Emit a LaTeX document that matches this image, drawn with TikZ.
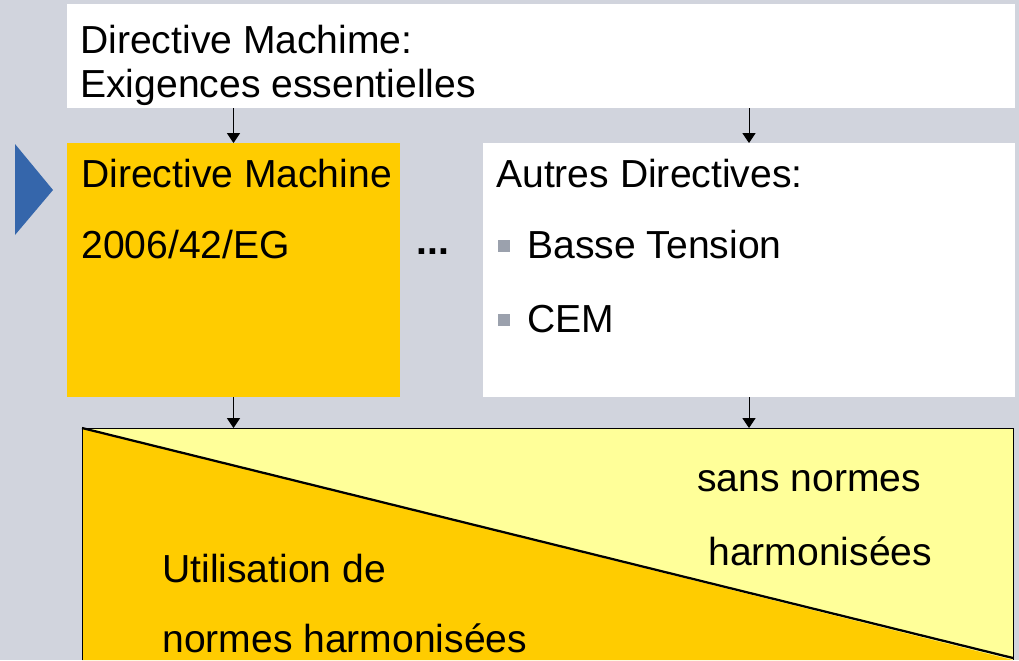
\documentclass[tikz,border=0pt]{standalone}
\usepackage{fontspec}
\setmainfont{Liberation Sans}
\usepackage{xcolor}
\usepackage{tikz}
\usetikzlibrary{arrows.meta}
\usetikzlibrary{calc}
\definecolor{slidegrey}{HTML}{D1D4DD}
\definecolor{machyellow}{HTML}{FFCC00}
\definecolor{paleyellow}{HTML}{FFFF99}
\definecolor{markblue}{HTML}{3566AB}
\definecolor{bulletgrey}{HTML}{9BA1AD}
\def\pxu{0.025cm}
\tikzset{
  panel/.style 2 args={rectangle,inner sep=0pt,outer sep=0pt,anchor=north west,
    minimum width=#1*\pxu,minimum height=#2*\pxu},
  label text/.style={anchor=base west,inner sep=0pt,font=\fontsize{27.8pt}{33pt}\selectfont},
  flow/.style={draw=black,line width=0.7pt,-{Triangle[width=0.33cm,length=0.25cm]}}
}

\begin{document}
\begin{tikzpicture}[x=\pxu,y=-\pxu]
        %%% BACKGROUND %%%
        \fill[slidegrey] (0,0) rectangle (1019,660);
        \useasboundingbox (0,0) rectangle (1019,660);
        \fill[markblue] (15,144) -- (53,190) -- (15,235) -- cycle;

        %%% BOXES %%%
        \node[panel={948}{104},fill=white] (exig) at (67,4) {};
        \node[panel={333}{254},fill=machyellow] (dm) at (67,143) {};
        \node[panel={532}{254},fill=white] (autres) at (483,143) {};
        \node[panel={931}{232},fill=paleyellow] (normes) at (82,428) {};
        \fill[machyellow] (normes.north west) -- (normes.south east) -- (normes.south west) -- cycle;
        \draw[line width=1.6pt] (normes.north west) -- ([yshift=2*\pxu]normes.south east);
        \draw[line width=0.7pt] (normes.south west) -- (normes.north west) -- (normes.north east) -- (normes.south east);

        %%% TEXTS %%%
        \node[label text] (t1) at (80,53) {Directive Machime:};
        \node[label text] (t2) at (80,97) {Exigences essentielles};
        \node[label text] (t3) at (81,187) {Directive Machine};
        \node[label text] (t4) at (81,258) {2006/42/EG};
        \node[label text] (t5) at (496,187) {Autres Directives:};
        \node[label text] (t6) at (527,258) {Basse Tension};
        \node[label text] (t7) at (527,332) {CEM};
        \node[label text] (dots) at (416,254) {\textbf{...}};
        \node[label text] (t8) at (697,491) {sans normes};
        \node[label text] (t9) at (708,565) {harmonisées};
        \node[label text] (t10) at (162,582) {Utilisation de};
        \node[label text] (t11) at (162,652) {normes harmonisées};
        \fill[bulletgrey] (498,240) rectangle (510,252);
        \fill[bulletgrey] (498,314) rectangle (510,326);

        %%% ARROWS %%%
        \draw[flow] (dm.north |- exig.south) -- (dm.north);
        \draw[flow] (autres.north |- exig.south) -- (autres.north);
        \draw[flow] (dm.south) -- (dm.south |- normes.north);
        \draw[flow] (autres.south) -- (autres.south |- normes.north);
    \end{tikzpicture}
\end{document}
